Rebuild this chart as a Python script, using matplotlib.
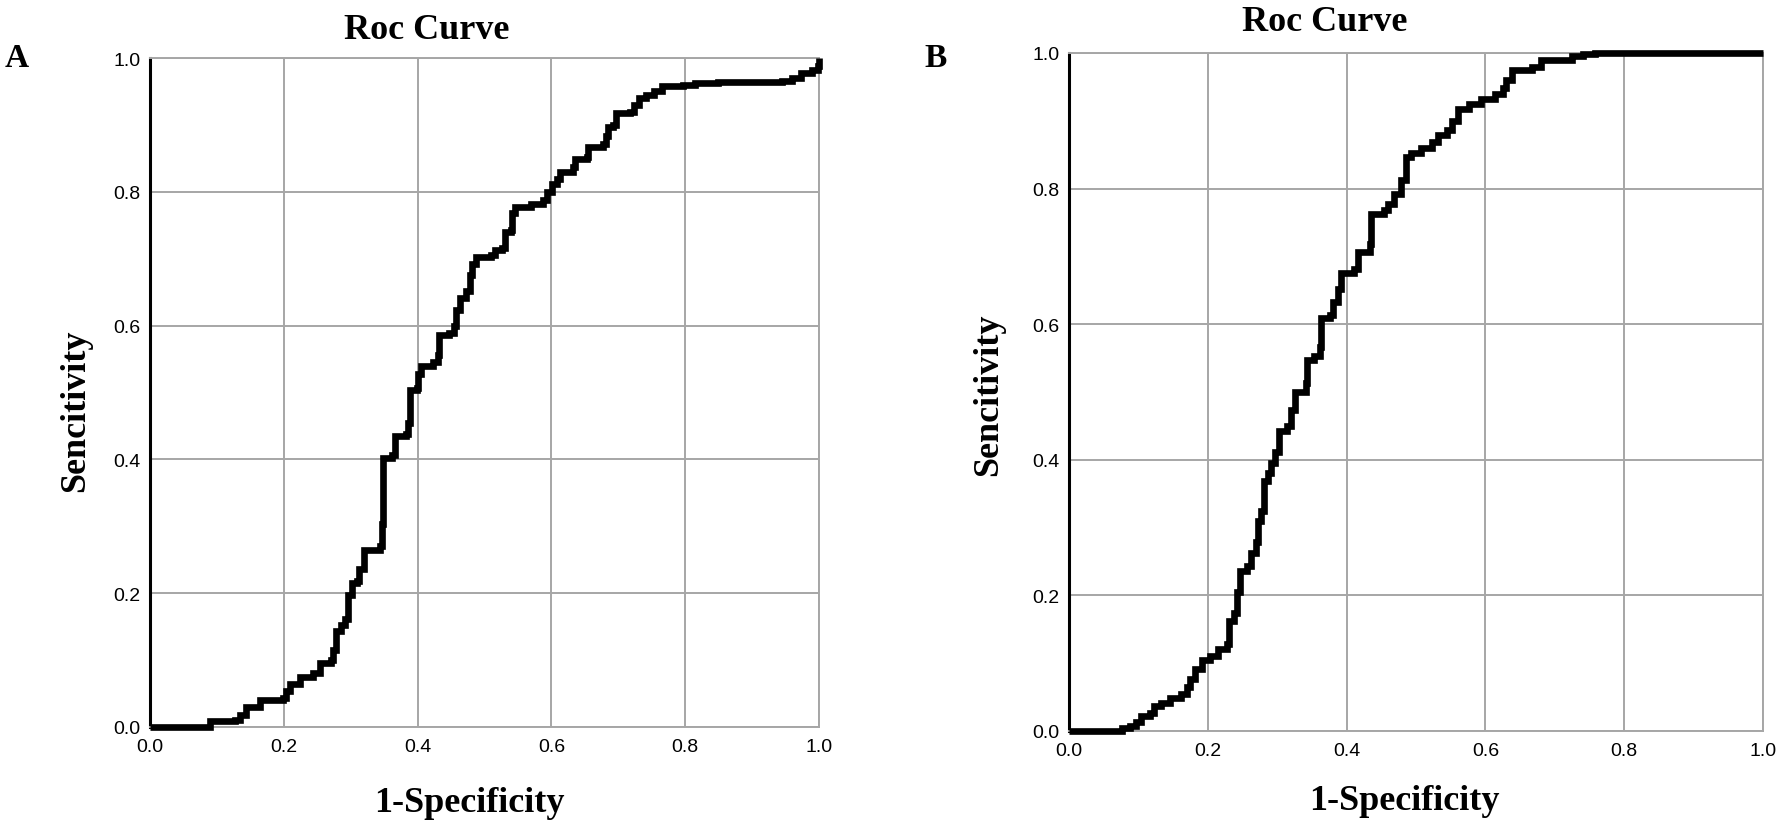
import matplotlib
matplotlib.use('AGG')
import matplotlib.pyplot as plt

# ROC curve A (1-specificity, sensitivity)
fpr_a = [0.0, 0.079, 0.089, 0.127, 0.134, 0.144, 0.160, 0.165, 0.192, 0.199, 0.203,
         0.210, 0.224, 0.244, 0.254, 0.270, 0.274, 0.278, 0.285, 0.292, 0.296,
         0.302, 0.309, 0.313, 0.320, 0.344, 0.347, 0.349, 0.361, 0.366, 0.383,
         0.386, 0.388, 0.399, 0.401, 0.405, 0.423, 0.430, 0.432, 0.447, 0.454,
         0.457, 0.464, 0.472, 0.479, 0.481, 0.488, 0.509, 0.515, 0.526, 0.531,
         0.539, 0.541, 0.546, 0.570, 0.588, 0.594, 0.601, 0.608, 0.613, 0.632,
         0.636, 0.653, 0.655, 0.677, 0.682, 0.685, 0.692, 0.696, 0.718, 0.724,
         0.731, 0.742, 0.753, 0.766, 0.797, 0.814, 0.849, 0.904, 0.945, 0.959,
         0.973, 0.990, 0.999, 1.0]
tpr_a = [0.0, 0.0, 0.009, 0.010, 0.018, 0.030, 0.030, 0.040, 0.040, 0.043, 0.054,
         0.064, 0.074, 0.081, 0.095, 0.100, 0.115, 0.143, 0.153, 0.162, 0.198,
         0.215, 0.218, 0.236, 0.265, 0.270, 0.304, 0.402, 0.407, 0.435, 0.438,
         0.455, 0.503, 0.506, 0.527, 0.540, 0.545, 0.556, 0.586, 0.589, 0.600,
         0.624, 0.641, 0.651, 0.675, 0.692, 0.703, 0.705, 0.713, 0.716, 0.740,
         0.743, 0.768, 0.778, 0.782, 0.787, 0.799, 0.812, 0.819, 0.830, 0.837,
         0.849, 0.852, 0.867, 0.871, 0.884, 0.897, 0.900, 0.918, 0.920, 0.929,
         0.940, 0.945, 0.950, 0.958, 0.960, 0.962, 0.964, 0.964, 0.966, 0.970,
         0.977, 0.982, 0.988, 1.0]

# ROC curve B
fpr_b = [0.0, 0.071, 0.076, 0.088, 0.096, 0.104, 0.117, 0.122, 0.133, 0.145,
         0.162, 0.170, 0.174, 0.181, 0.191, 0.203, 0.214, 0.228, 0.230, 0.238,
         0.242, 0.247, 0.256, 0.262, 0.269, 0.273, 0.277, 0.281, 0.287, 0.291,
         0.297, 0.303, 0.314, 0.320, 0.326, 0.341, 0.343, 0.353, 0.362, 0.363,
         0.376, 0.381, 0.388, 0.392, 0.411, 0.417, 0.433, 0.435, 0.454, 0.460,
         0.468, 0.478, 0.485, 0.493, 0.507, 0.523, 0.532, 0.544, 0.552, 0.560,
         0.577, 0.593, 0.614, 0.626, 0.630, 0.638, 0.667, 0.680, 0.725, 0.741,
         0.758, 1.0]
tpr_b = [0.0, 0.0, 0.004, 0.008, 0.014, 0.022, 0.026, 0.037, 0.041, 0.049,
         0.054, 0.065, 0.076, 0.092, 0.104, 0.111, 0.121, 0.129, 0.162, 0.174,
         0.205, 0.236, 0.244, 0.263, 0.279, 0.310, 0.325, 0.368, 0.380, 0.395,
         0.411, 0.442, 0.450, 0.473, 0.500, 0.514, 0.547, 0.553, 0.567, 0.609,
         0.613, 0.633, 0.652, 0.675, 0.682, 0.707, 0.718, 0.763, 0.769, 0.777,
         0.792, 0.812, 0.847, 0.853, 0.860, 0.868, 0.879, 0.886, 0.900, 0.917,
         0.925, 0.932, 0.940, 0.948, 0.960, 0.975, 0.980, 0.990, 0.996, 0.998,
         1.0, 1.0]

ticks = [0.0, 0.2, 0.4, 0.6, 0.8, 1.0]
tick_labels = ['0.0', '0.2', '0.4', '0.6', '0.8', '1.0']

serif = ['Liberation Serif', 'DejaVu Serif']
sans = ['Liberation Sans', 'DejaVu Sans']

W, H = 1781, 829
fig = plt.figure(figsize=(W / 100, H / 100), dpi=100)


def px_axes(left, top, right, bottom):
    return fig.add_axes([left / W, 1 - bottom / H, (right - left) / W, (bottom - top) / H])


def draw_panel(ax, fpr, tpr):
    ax.set_xlim(0, 1)
    ax.set_ylim(0, 1)
    ax.set_xticks(ticks)
    ax.set_yticks(ticks)
    ax.set_xticklabels(tick_labels, fontfamily=sans, fontsize=14)
    ax.set_yticklabels(tick_labels, fontfamily=sans, fontsize=14)
    ax.tick_params(axis='both', length=0)
    ax.tick_params(axis='x', pad=8)
    ax.tick_params(axis='y', pad=7)
    ax.grid(True, color='#a6a6a6', linewidth=1.4)
    ax.set_axisbelow(True)
    for side in ['top', 'right', 'bottom']:
        ax.spines[side].set_color('#a6a6a6')
        ax.spines[side].set_linewidth(1.4)
    ax.spines['left'].set_color('black')
    ax.spines['left'].set_linewidth(2.2)
    ax.plot(fpr, tpr, color='black', linewidth=4.8, drawstyle='steps-post',
            solid_joinstyle='miter', solid_capstyle='butt', clip_on=False, zorder=5)


ax_a = px_axes(150, 59, 819, 728)
draw_panel(ax_a, fpr_a, tpr_a)
ax_b = px_axes(1069, 54, 1763, 732)
draw_panel(ax_b, fpr_b, tpr_b)

bold = dict(fontfamily=serif, fontweight='bold')
fig.text(427 / W, 1 - 39 / H, 'Roc Curve', ha='center', va='baseline', fontsize=26, **bold)
fig.text(1325 / W, 1 - 31 / H, 'Roc Curve', ha='center', va='baseline', fontsize=26, **bold)
fig.text(5 / W, 1 - 67 / H, 'A', ha='left', va='baseline', fontsize=24, **bold)
fig.text(924 / W, 1 - 67 / H, 'B', ha='left', va='baseline', fontsize=24, **bold)
fig.text(76 / W, 1 - 411 / H, 'Sencitivity', ha='center', va='center', rotation=90, fontsize=26, **bold)
fig.text(989 / W, 1 - 395 / H, 'Sencitivity', ha='center', va='center', rotation=90, fontsize=26, **bold)
fig.text(469 / W, 1 - 812 / H, '1-Specificity', ha='center', va='baseline', fontsize=26, **bold)
fig.text(1404 / W, 1 - 810 / H, '1-Specificity', ha='center', va='baseline', fontsize=26, **bold)

fig.savefig('out.png', dpi=100, facecolor='white')
